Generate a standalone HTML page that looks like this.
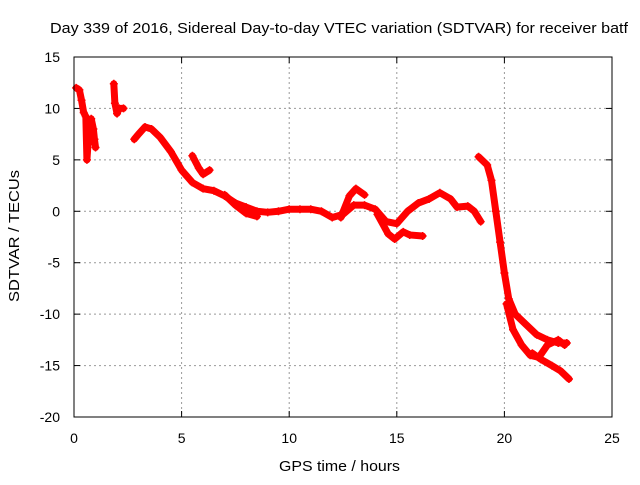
<!DOCTYPE html>
<html><head><meta charset="utf-8"><style>
body{margin:0;background:#fff}
svg text{font-family:"Liberation Sans",sans-serif;font-size:14px;fill:#000}
</style></head><body>
<svg id="c" width="640" height="480">
<rect x="0" y="0" width="640" height="480" fill="#fff"/>
<g id="grid"></g><g id="ticks"></g><g id="marks"></g>
<rect x="74" y="57" width="538" height="360" fill="none" stroke="#000" stroke-width="1"/>
<text x="50" y="33" textLength="578" lengthAdjust="spacingAndGlyphs" style="font-size:15px">Day 339 of 2016, Sidereal Day-to-day VTEC variation (SDTVAR) for receiver batf</text>
<text x="279" y="471" textLength="121" lengthAdjust="spacingAndGlyphs" style="font-size:15px">GPS time / hours</text>
<text x="0" y="0" textLength="132" lengthAdjust="spacingAndGlyphs" style="font-size:15px" transform="translate(19,302) rotate(-90)">SDTVAR / TECUs</text>
</svg>
<script>
const xTicks=[0,5,10,15,20,25];
const yTicks=[15,10,5,0,-5,-10,-15,-20];
const seg1=[[0.1,12],[0.25,11.8],[0.35,10.8],[0.45,9.6],[0.55,9.2],[0.6,5.0],[0.65,6.5],[0.7,8.5],[0.8,9],[0.9,8],[0.95,7],[1.0,6.2]];
const seg2=[[1.85,12.4],[1.9,10.5],[2.0,9.5],[2.1,10],[2.3,10]];
const segMain=[[2.8,7],[3.0,7.5],[3.3,8.2],[3.6,8],[4.0,7.2],[4.5,5.8],[5.0,4],[5.5,2.8],[6,2.2],[6.5,2],[7,1.5],[7.5,0.8],[8,0.4],[8.5,0],[9,-0.1],[9.5,0],[10,0.2],[10.5,0.2],[11,0.2],[11.5,0],[12,-0.6],[12.5,-0.3],[13,0.6],[13.5,0.6],[14,0.2],[14.5,-1],[15,-1.2],[15.5,0],[16,0.8],[16.5,1.2],[17,1.8],[17.5,1.2],[17.8,0.4],[18.3,0.5],[18.6,0],[18.9,-1]];
const segB1=[[5.5,5.4],[5.8,4.2],[6.0,3.6],[6.3,4.0]];
const segB2=[[7,1.6],[7.5,0.6],[8.0,-0.2],[8.5,-0.5]];
const segB3=[[12.4,-0.6],[12.8,1.5],[13.1,2.2],[13.5,1.6]];
const segB4=[[14.1,-0.3],[14.6,-2.2],[14.9,-2.7],[15.3,-2],[15.6,-2.3],[16.2,-2.4]];
const segLate1=[[18.8,5.3],[19.2,4.5],[19.4,3],[19.6,0],[19.8,-3],[20.0,-6],[20.2,-8.5],[20.5,-10],[21,-11],[21.5,-12],[22,-12.5],[22.5,-12.8],[22.9,-12.8]];
const segLate2=[[20.1,-9],[20.4,-11.5],[20.8,-13],[21.2,-14],[21.6,-14.2],[22,-13],[22.5,-12.5],[22.8,-13]];
const segLate3=[[21.3,-13.8],[21.7,-14.4],[22.2,-15],[22.6,-15.5],[23,-16.3]];
const series=[seg1,seg2,segMain,segB1,segB2,segB3,segB4,segLate1,segLate2,segLate3];
const NS="http://www.w3.org/2000/svg";
const X=v=>74+v*538/25, Y=v=>57+(15-v)*360/35;
const grid=document.getElementById('grid'),ticks=document.getElementById('ticks'),marks=document.getElementById('marks');
function mk(tag,at,p){const e=document.createElementNS(NS,tag);for(const k in at)e.setAttribute(k,at[k]);p.appendChild(e);return e;}
xTicks.forEach(t=>{const x=X(t);
 if(t>0&&t<25){const g=mk('line',{x1:x,x2:x,y1:57,y2:417,stroke:'#999','stroke-dasharray':'2,3'},grid);
 
 }
 mk('line',{x1:x,x2:x,y1:417,y2:411,stroke:'#000'},ticks);mk('line',{x1:x,x2:x,y1:57,y2:63,stroke:'#000'},ticks);
 const l=mk('text',{x:x,y:443,'text-anchor':'middle'},ticks);l.textContent=t;
 
 });
yTicks.forEach(t=>{const y=Y(t);
 if(t<15&&t>-20){const g=mk('line',{x1:74,x2:612,y1:y,y2:y,stroke:'#999','stroke-dasharray':'2,3'},grid);
 
 }
 mk('line',{x1:74,x2:80,y1:y,y2:y,stroke:'#000'},ticks);mk('line',{x1:606,x2:612,y1:y,y2:y,stroke:'#000'},ticks);
 const l=mk('text',{x:60,y:y+5,'text-anchor':'end'},ticks);l.textContent=t;
 
 });
series.forEach((s,i)=>{
 const p=mk('polyline',{points:s.map(d=>X(d[0])+','+Y(d[1])).join(' '),fill:'none',stroke:'#f00','stroke-width':7,'stroke-linejoin':'round','stroke-linecap':'round'},marks);
 
 
 s.forEach(d=>{const x=X(d[0]),y=Y(d[1]);
  const m=mk('path',{d:`M${x-4},${y}H${x+4}M${x},${y-4}V${y+4}`,stroke:'#f00','stroke-width':1.5},marks);
  
  });
});
</script>
</body></html>
